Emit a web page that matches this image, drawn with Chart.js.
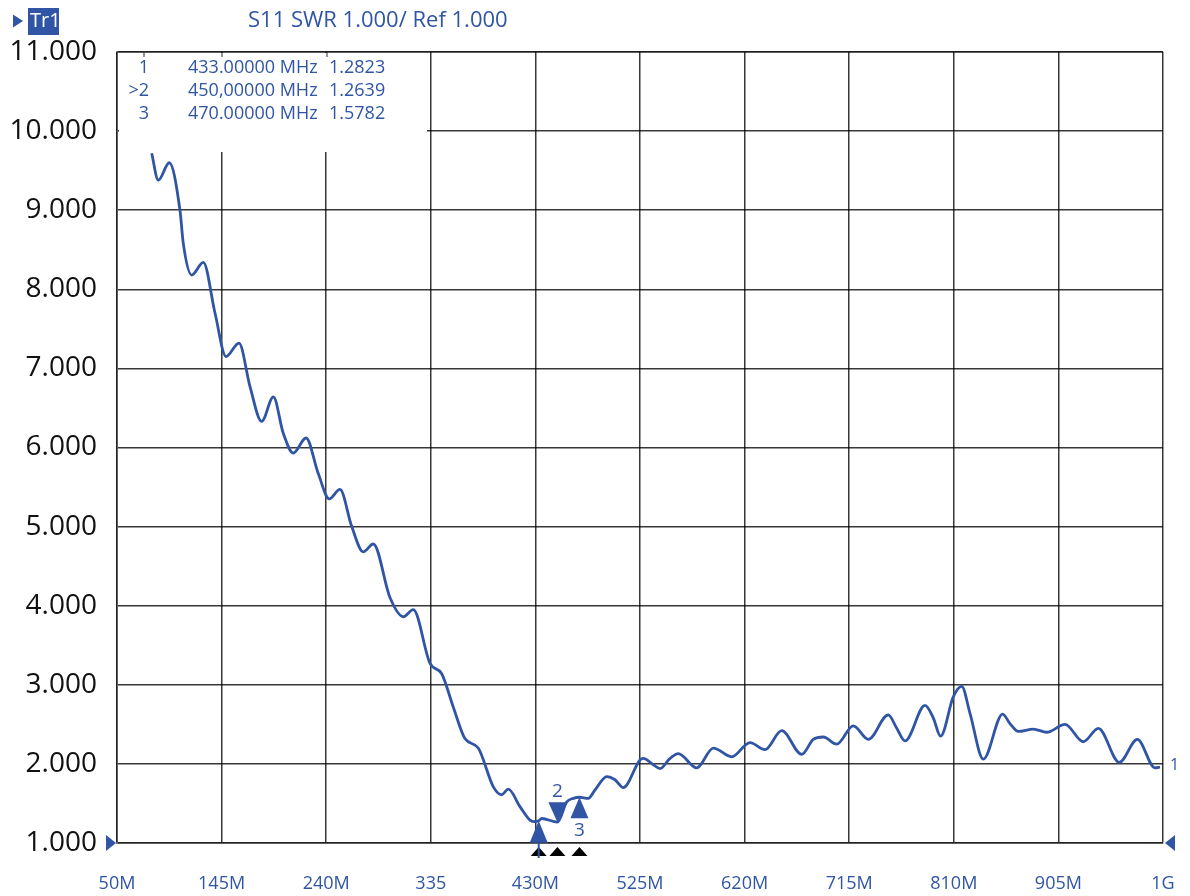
<!DOCTYPE html>
<html>
<head>
<meta charset="utf-8">
<script src="https://cdn.jsdelivr.net/npm/chart.js@4.4.1/dist/chart.umd.min.js"></script>
<style>
  html, body { margin: 0; padding: 0; background: #fff; }
  #wrap { width: 1190px; height: 896px; position: relative; }
</style>
</head>
<body>
<div id="wrap"><canvas id="c"></canvas></div>
<script>
// trace values (MHz, SWR)
const freqs = [81.5, 87.5, 97.5, 107.2, 110.2, 117.8, 128.4, 139, 149, 160.8, 170.8, 181.4, 192, 201, 210.1, 221.7, 232.8, 242.8, 252.5, 263.2, 273.7, 282.8, 298, 310, 319.1, 334.3, 344.9, 355.4, 366, 378.1, 391.8, 399.4, 405.4, 416, 425.1, 429.6, 433, 435.7, 450, 458.5, 464.5, 470, 478, 484.1, 494.8, 502.3, 509.8, 525, 528, 537.1, 543.2, 552.3, 559.8, 576.5, 591.6, 608.3, 624.9, 638.5, 653.7, 671.9, 682.4, 691.5, 703.7, 718.7, 732.4, 750.5, 758.2, 765.7, 783.9, 791.4, 798, 809.6, 817.2, 824.7, 836.8, 854.4, 861, 868.6, 882.2, 894.4, 911, 927.6, 941.3, 960.3, 976.7, 992.7, 997.3];
const swr = [9.72, 9.38, 9.60, 9.00, 8.58, 8.18, 8.34, 7.70, 7.15, 7.32, 6.77, 6.33, 6.64, 6.18, 5.93, 6.12, 5.67, 5.35, 5.47, 5.00, 4.68, 4.78, 4.10, 3.86, 3.95, 3.27, 3.14, 2.72, 2.32, 2.20, 1.71, 1.61, 1.68, 1.46, 1.29, 1.27, 1.2823, 1.31, 1.2639, 1.52, 1.565, 1.5782, 1.565, 1.67, 1.84, 1.80, 1.70, 2.05, 2.07, 1.99, 1.94, 2.07, 2.13, 1.95, 2.20, 2.09, 2.27, 2.18, 2.42, 2.12, 2.31, 2.34, 2.25, 2.48, 2.31, 2.62, 2.45, 2.29, 2.74, 2.58, 2.35, 2.85, 2.98, 2.64, 2.06, 2.63, 2.51, 2.41, 2.44, 2.40, 2.50, 2.28, 2.45, 2.02, 2.31, 1.95, 1.96];

const xTicks = [50, 145, 240, 335, 430, 525, 620, 715, 810, 905, 1000];
const xTickLabels = ['50M', '145M', '240M', '335', '430M', '525M', '620M', '715M', '810M', '905M', '1G'];

const markerNames = ['1', '2', '3'];
const markerFreqs = [433, 450, 470];
const markerVals = [1.2823, 1.2639, 1.5782];
const markerText = ['433.00000 MHz', '450,00000 MHz', '470.00000 MHz'];

const BLUE = '#2f55a4';
const FONT = '"Open Sans", "Noto Sans", sans-serif';

function tri(ctx, x, y, w, h, dir, color) {
  // apex at (x,y), pointing in dir
  ctx.fillStyle = color;
  ctx.beginPath();
  if (dir === 'up') { ctx.moveTo(x, y); ctx.lineTo(x - w / 2, y + h); ctx.lineTo(x + w / 2, y + h); }
  if (dir === 'down') { ctx.moveTo(x, y); ctx.lineTo(x - w / 2, y - h); ctx.lineTo(x + w / 2, y - h); }
  if (dir === 'right') { ctx.moveTo(x, y); ctx.lineTo(x - h, y - w / 2); ctx.lineTo(x - h, y + w / 2); }
  if (dir === 'left') { ctx.moveTo(x, y); ctx.lineTo(x + h, y - w / 2); ctx.lineTo(x + h, y + w / 2); }
  ctx.closePath();
  ctx.fill();
}

const overlay = {
  id: 'overlay',
  beforeDatasetsDraw(chart) {
    const ctx = chart.ctx;
    const a = chart.chartArea;
    ctx.save();
    // marker readout box hides the grid behind it
    ctx.fillStyle = '#fff';
    ctx.fillRect(a.left + 2, a.top + 1, 308, 99);
    ctx.strokeStyle = 'rgba(0,0,0,0.55)';
    ctx.lineWidth = 1.5;
    ctx.beginPath();
    ctx.moveTo(a.left, a.top); ctx.lineTo(a.right, a.top);
    [27, 105, 210].forEach(dx => { ctx.moveTo(a.left + dx, a.top); ctx.lineTo(a.left + dx, a.top + 5); });
    ctx.stroke();
    ctx.restore();
  },
  afterDraw(chart) {
    const ctx = chart.ctx;
    const a = chart.chartArea;
    const xs = chart.scales.x, ys = chart.scales.y;
    ctx.save();

    // header
    tri(ctx, 23, 21, 13, 10, 'right', BLUE);
    ctx.fillStyle = BLUE;
    ctx.fillRect(28, 8, 31, 27);
    ctx.font = '20px ' + FONT;
    ctx.textBaseline = 'middle';
    ctx.textAlign = 'left';
    ctx.fillStyle = '#fff';
    ctx.fillText('Tr1', 30, 21);
    ctx.fillStyle = BLUE;
    ctx.font = '22px ' + FONT;
    ctx.fillText('S11 SWR 1.000/ Ref 1.000', 248, 21);

    // marker readout
    ctx.font = '18px ' + FONT;
    markerNames.forEach((n, i) => {
      const y = 68 + i * 23;
      ctx.textAlign = 'right';
      ctx.fillText((i === 1 ? '>' : '') + n, 149, y);
      ctx.textAlign = 'left';
      ctx.fillText(markerText[i], 188, y);
      ctx.fillText(markerVals[i].toFixed(4), 329, y);
    });

    // reference level arrows
    tri(ctx, a.left - 1, a.bottom, 16, 10, 'right', BLUE);
    tri(ctx, a.right + 2, a.bottom, 16, 10, 'left', BLUE);

    // trace end label
    const lastY = ys.getPixelForValue(swr[swr.length - 1]);
    ctx.font = '16px ' + FONT;
    ctx.textAlign = 'left';
    ctx.fillText('1', a.right + 7, lastY - 2);

    // markers on trace
    markerFreqs.forEach((f, i) => {
      const px = xs.getPixelForValue(f);
      const py = ys.getPixelForValue(markerVals[i]);
      ctx.font = '19px ' + FONT;
      ctx.textAlign = 'center';
      if (i === 1) {
        tri(ctx, px, py, 18, 20, 'down', BLUE);
        ctx.fillStyle = BLUE;
        ctx.fillText(markerNames[i], px, py - 31);
      } else if (i === 0) {
        tri(ctx, px, py, 18, 22, 'up', BLUE);
      } else {
        tri(ctx, px, py, 18, 21, 'up', BLUE);
        ctx.fillStyle = BLUE;
        ctx.fillText(markerNames[i], px, py + 33);
      }
      // small black indicators under the axis
      tri(ctx, px, a.bottom + 4, 16, 9, 'up', '#000');
    });
    const p1 = xs.getPixelForValue(markerFreqs[0]);
    ctx.strokeStyle = BLUE;
    ctx.lineWidth = 2;
    ctx.beginPath();
    ctx.moveTo(p1, a.bottom); ctx.lineTo(p1, a.bottom + 15);
    ctx.stroke();

    ctx.restore();
  }
};

new Chart(document.getElementById('c'), {
  type: 'line',
  data: {
    datasets: [{
      data: freqs.map((f, i) => ({ x: f, y: swr[i] })),
      borderColor: BLUE,
      borderWidth: 2.8,
      pointRadius: 0,
      fill: false,
      cubicInterpolationMode: 'monotone'
    }]
  },
  options: {
    responsive: true,
    maintainAspectRatio: false,
    animation: false,
    layout: { padding: { top: 52, right: 27, left: 0, bottom: 0 } },
    plugins: { legend: { display: false }, tooltip: { enabled: false } },
    scales: {
      x: {
        type: 'linear',
        min: 50,
        max: 1000,
        afterBuildTicks: scale => { scale.ticks = xTicks.map(v => ({ value: v })); },
        afterFit: scale => {
          scale.height = 53;
          scale.paddingLeft = 0;
          scale.paddingRight = 0;
        },
        ticks: {
          autoSkip: false,
          maxRotation: 0,
          padding: 30,
          color: BLUE,
          font: { family: FONT, size: 18, weight: '500' },
          callback: (v) => xTickLabels[xTicks.indexOf(v)]
        },
        grid: { color: 'rgba(0,0,0,0.78)', lineWidth: 1.5, drawTicks: false },
        border: { color: 'rgba(0,0,0,0.4)', width: 2 }
      },
      y: {
        min: 1,
        max: 11,
        afterFit: scale => {
          scale.width = 117;
          scale.paddingTop = 0;
          scale.paddingBottom = 0;
        },
        ticks: {
          stepSize: 1,
          padding: 20,
          color: '#111',
          font: { family: FONT, size: 28 },
          callback: v => v.toFixed(3)
        },
        grid: { color: 'rgba(0,0,0,0.78)', lineWidth: 1.5, drawTicks: false },
        border: { color: 'rgba(0,0,0,0.4)', width: 2 }
      }
    }
  },
  plugins: [overlay]
});
</script>
</body>
</html>
